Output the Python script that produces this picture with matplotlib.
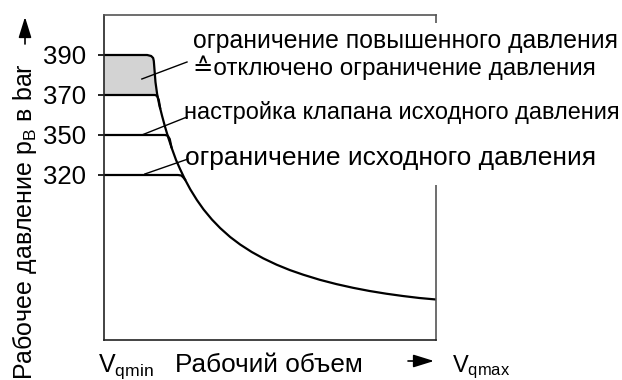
import numpy as np
import matplotlib
matplotlib.use("Agg")
import matplotlib.pyplot as plt
from matplotlib.patches import Rectangle

plt.rcParams['font.family'] = ['Liberation Sans', 'DejaVu Sans']
plt.rcParams['mathtext.fontset'] = 'custom'
plt.rcParams['mathtext.rm'] = 'Liberation Sans'
plt.rcParams['mathtext.it'] = 'Liberation Sans'

# pressure levels (bar) and their height on the schematic axis
levels = [320, 350, 370, 390]
level_pos = [165, 205, 245, 285]

# displacement in % of Vg range, schematic pressure height
# upper envelope: 390 bar line, its corner, then the power hyperbola
curve_x = [0, 13.0, 14.2, 14.8, 15.0, 15.1, 15.5, 16.0, 16.6, 17.5, 18.4, 19.3,
           20.5, 21.7, 22.9, 24.4, 26.0, 28.0, 30.0, 32.5, 35.0, 38.0, 41.0,
           44.5, 48.0, 52.0, 56.0, 60.0, 65.0, 70.0, 75.0, 80.0, 85.0, 90.0,
           95.0, 100.0]
curve_y = [285, 285, 284, 282, 279, 275, 258, 246, 236, 224, 213, 203,
           191, 180, 171, 160.5, 150.6, 139.9, 130.5, 120.5, 111.9, 103, 95.5,
           88, 81.6, 75.3, 69.9, 65.3, 60.2, 55.9, 52.2, 49, 46.3, 44,
           42, 40.5]

# lower setting lines (370, 350, 320 bar) running into the hyperbola
line370_x = [0, 15.4, 16.0, 16.5, 16.9]
line370_y = [245, 245, 244, 240, 232]
line350_x = [0, 18.4, 19.2, 19.8, 20.3]
line350_y = [205, 205, 204.3, 201, 193]
line320_x = [0, 22.3, 23.3, 23.9, 24.4]
line320_y = [165, 165, 164.5, 162.5, 160.5]

labels = ["ограничение повышенного давления",
          "≙отключено ограничение давления",
          "настройка клапана исходного давления",
          "ограничение исходного давления"]

fig = plt.figure(figsize=(6.22, 3.80), dpi=100)
ax = fig.add_axes([104 / 622, 40 / 380, 332 / 622, 325 / 380])
ax.set_xlim(0, 100)
ax.set_ylim(0, 325)

cx = np.array(curve_x)
cy = np.array(curve_y)
mask = cy >= level_pos[2]
ax.fill_between(cx[mask], level_pos[2], cy[mask], color='#d3d3d3', lw=0)

lw = 1.6
ax.plot(curve_x, curve_y, color='black', lw=lw, solid_joinstyle='round')
ax.plot(line370_x, line370_y, color='black', lw=lw)
ax.plot(line350_x, line350_y, color='black', lw=lw)
ax.plot(line320_x, line320_y, color='black', lw=lw)

# leader lines to the labels
ax.plot([11.4, 25.0], [261, 278], color='black', lw=1.0)
ax.plot([11.4, 25.0], [205, 223], color='black', lw=1.0)
ax.plot([12.3, 25.3], [166, 181], color='black', lw=1.0)

# white block behind the labels hides the right frame there
ax.add_patch(Rectangle((27, 155), 140, 162, color='white', lw=0, zorder=2.6, clip_on=False))

ax.text(26.8, 292, labels[0], fontsize=17.8, va='baseline', clip_on=False, zorder=3)
ax.text(26.8, 265, labels[1], fontsize=17.5, va='baseline', clip_on=False, zorder=3)
ax.text(24.1, 221, labels[2], fontsize=16.9, va='baseline', clip_on=False, zorder=3)
ax.text(24.4, 175, labels[3], fontsize=19, va='baseline', clip_on=False, zorder=3)

ax.set_xticks([])
ax.set_yticks(level_pos)
ax.set_yticklabels([str(v) for v in levels],
                   family=['Liberation Sans Narrow', 'Liberation Sans'], fontsize=18.5)
ax.tick_params(axis='y', length=4, width=1.2, pad=9)

for side in ['left', 'bottom']:
    ax.spines[side].set_color('#222222')
    ax.spines[side].set_linewidth(1.2)
for side in ['top', 'right']:
    ax.spines[side].set_color('#555555')
    ax.spines[side].set_linewidth(1.2)

# axis titles
fig.text(25 / 622, (380 - 222) / 380, "Рабочее давление p$_\\mathrm{B}$ в bar", rotation=90,
         ha='center', va='center', fontsize=18)
ax.annotate('', xy=(25, 363), xytext=(25, 336), xycoords='figure pixels',
            textcoords='figure pixels',
            arrowprops=dict(arrowstyle='-|>,head_length=0.9,head_width=0.28', color='black',
                            lw=1.2, mutation_scale=14, shrinkA=0, shrinkB=0))

fig.text(98 / 622, 8 / 380, "V$_\\mathrm{qmin}$", ha='left', va='baseline', fontsize=18)
fig.text(175 / 622, 8 / 380, "Рабочий объем", ha='left', va='baseline', fontsize=18.8)
ax.annotate('', xy=(434, 19), xytext=(408, 19), xycoords='figure pixels',
            textcoords='figure pixels',
            arrowprops=dict(arrowstyle='-|>,head_length=0.9,head_width=0.28', color='black',
                            lw=1.2, mutation_scale=14, shrinkA=0, shrinkB=0))
fig.text(452 / 622, 8 / 380, "V$_\\mathrm{qmax}$", ha='left', va='baseline', fontsize=17)

fig.savefig("out.png", dpi=100)
